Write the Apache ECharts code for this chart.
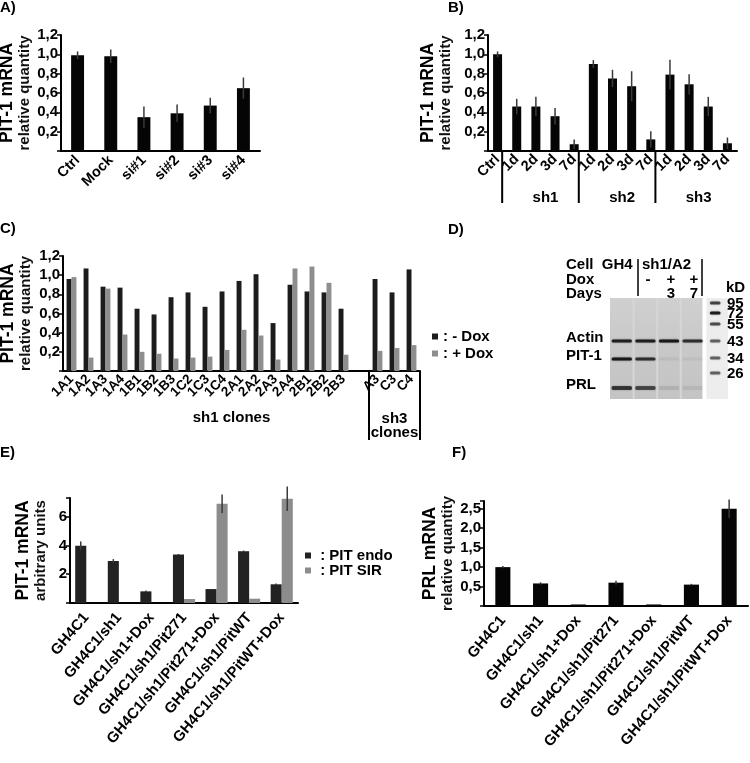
<!DOCTYPE html>
<html>
<head>
<meta charset="utf-8">
<script src="https://cdn.jsdelivr.net/npm/echarts@6/dist/echarts.min.js"></script>
<style>
  html, body { margin: 0; padding: 0; background: #fff; }
  #chart { width: 750px; height: 763px; }
</style>
</head>
<body>
<div id="chart"></div>
<script>
// A) siRNA
const catA = ['Ctrl', 'Mock', 'si#1', 'si#2', 'si#3', 'si#4']
const valA = [0.99, 0.98, 0.35, 0.39, 0.47, 0.65]
const errA = [0.04, 0.07, 0.11, 0.09, 0.08, 0.11]

// B) shRNA time course
const catB = ['Ctrl', '1d', '2d', '3d', '7d', '1d', '2d', '3d', '7d', '1d', '2d', '3d', '7d']
const valB = [1.0, 0.46, 0.46, 0.36, 0.07, 0.9, 0.75, 0.67, 0.12, 0.79, 0.69, 0.46, 0.08]
const errB = [0.03, 0.08, 0.1, 0.085, 0.05, 0.04, 0.09, 0.155, 0.085, 0.155, 0.105, 0.1, 0.06]
const groupsB = ['sh1', 'sh2', 'sh3']
const groupStartB = [1, 5, 9]

// C) clones
const catC = ['1A1', '1A2', '1A3', '1A4', '1B1', '1B2', '1B3', '1C2', '1C3', '1C4', '2A1', '2A2', '2A3',
  '2A4', '2B1', '2B2', '2B3', '', 'A3', 'C3', 'C4']
const minusDox = [0.96, 1.07, 0.88, 0.87, 0.65, 0.59, 0.77, 0.82, 0.67, 0.83, 0.94, 1.01, 0.5,
  0.9, 0.83, 0.82, 0.65, null, 0.96, 0.82, 1.06]
const plusDox = [0.98, 0.14, 0.86, 0.38, 0.2, 0.18, 0.13, 0.14, 0.15, 0.22, 0.43, 0.37, 0.12,
  1.07, 1.09, 0.92, 0.17, null, 0.21, 0.24, 0.27]
const groupsC = ['sh1 clones', 'sh3\nclones']
const groupStartC = [0, 18]
const groupSizeC = [17, 3]

// D) western blot
const gelLanes = ['GH4', 'sh1/A2 -', 'sh1/A2 + 3', 'sh1/A2 + 7', 'marker']
const gelRows = ['Actin', 'PIT-1', 'PRL']
const gelRowPos = [43, 61, 90]
const actinI = [0.9, 0.9, 0.95, 0.8]
const pit1I = [0.95, 0.8, 0.06, 0.05]
const prlI = [0.75, 0.65, 0.1, 0.08]
const markerKd = ['95', '72', '55', '43', '34', '26']
const markerPos = [5, 15, 26, 43, 60, 75]
const markerI = [0.7, 0.95, 0.65, 0.55, 0.55, 0.55]

// E) rescue, PIT-1 mRNA
const catEF = ['GH4C1', 'GH4C1/sh1', 'GH4C1/sh1+Dox', 'GH4C1/sh1/Pit271', 'GH4C1/sh1/Pit271+Dox',
  'GH4C1/sh1/PitWT', 'GH4C1/sh1/PitWT+Dox']
const pitEndo = [3.98, 2.92, 0.81, 3.37, 0.97, 3.6, 1.3]
const pitEndoErr = [0.3, 0.13, 0.06, 0.04, 0, 0.05, 0.05]
const pitSir = [0, 0, 0, 0.28, 6.9, 0.3, 7.25]
const pitSirErr = [0, 0, 0, 0, 0.65, 0, 0.85]

// F) PRL mRNA
const prl = [1.0, 0.58, 0.04, 0.6, 0.04, 0.55, 2.5]
const prlErr = [0.03, 0.03, 0, 0.05, 0, 0.02, 0.24]

const FONT = '"Liberation Sans", Arial, Helvetica, sans-serif'
const BOLD = 'bold 15px ' + FONT

const comma = v => v.toFixed(1).replace('.', ',')
const integer = v => String(v)

function yAxis(gridIndex, max, interval, name1, name2, nameGap, fmt) {
  return {
    type: 'value', gridIndex, min: 0, max, interval,
    name: '{a|' + name1 + '}\n{b|' + name2 + '}',
    nameLocation: 'middle', nameGap, nameRotate: 90,
    nameTextStyle: {
      rich: {
        a: { fontFamily: FONT, fontWeight: 'bold', fontSize: 17.5, lineHeight: 18, color: '#000' },
        b: { fontFamily: FONT, fontWeight: 'bold', fontSize: 15, lineHeight: 18, color: '#111' },
      },
    },
    axisLine: { show: true, lineStyle: { color: '#000', width: 2 } },
    axisTick: { show: true, length: 4, lineStyle: { color: '#000', width: 1.5 } },
    splitLine: { show: false },
    axisLabel: {
      margin: 3, color: '#000', fontFamily: FONT, fontWeight: 'bold', fontSize: 15,
      formatter: v => {
        const k = v / interval
        if (v === 0 || Math.abs(k - Math.round(k)) > 1e-6) return ''
        return fmt(v)
      },
    },
  }
}

function xAxis(gridIndex, data, fontSize, rotate, margin) {
  return {
    type: 'category', gridIndex, data,
    axisLine: { lineStyle: { color: '#000', width: 2 } },
    axisTick: { show: false },
    axisLabel: {
      rotate, interval: 0, margin, color: '#000',
      fontFamily: FONT, fontWeight: 'bold', fontSize,
    },
  }
}

function errorBars(axis, vals, errs, offset) {
  return {
    type: 'custom', xAxisIndex: axis, yAxisIndex: axis, silent: true, z: 5,
    data: vals.map((v, i) => [i, v, errs[i]]),
    renderItem: (params, api) => {
      const e = api.value(2)
      if (!e) return
      const i = api.value(0)
      const v = api.value(1)
      const band = api.size([1, 0])[0]
      const x = api.coord([i, v])[0] + offset * band
      return {
        type: 'line',
        shape: { x1: x, y1: api.coord([i, v - e])[1], x2: x, y2: api.coord([i, v + e])[1] },
        style: { stroke: '#3a3a3a', lineWidth: 1.5 },
      }
    },
  }
}

function label(text, x, y, align) {
  return { type: 'text', x, y, style: { text, font: BOLD, fill: '#000', align: align || 'left', verticalAlign: 'middle' } }
}

const myChart = echarts.init(document.getElementById('chart'))

const option = {
  animation: false,
  backgroundColor: '#fff',
  textStyle: { fontFamily: FONT },
  grid: [
    { left: 61, top: 35, width: 199, height: 116, outerBoundsMode: 'none' },
    { left: 488, top: 35, width: 249, height: 116, outerBoundsMode: 'none' },
    { left: 63, top: 256, width: 357, height: 115, outerBoundsMode: 'none' },
    { left: 70, top: 498, width: 228, height: 105, outerBoundsMode: 'none' },
    { left: 484, top: 501, width: 264, height: 105, outerBoundsMode: 'none' },
    { left: 610, top: 298, width: 118, height: 101, outerBoundsMode: 'none' },
  ],
  xAxis: [
    xAxis(0, catA, 14.5, 45, 7),
    xAxis(1, catB, 14.5, 45, 6),
    xAxis(2, catC, 13.5, 45, 6),
    xAxis(3, catEF, 15, 50, 12),
    xAxis(4, catEF, 15, 50, 12),
    { type: 'category', gridIndex: 5, data: gelLanes, show: false },
  ],
  yAxis: [
    yAxis(0, 1.2, 0.2, 'PIT-1 mRNA', 'relative quantity', 27, comma),
    yAxis(1, 1.2, 0.2, 'PIT-1 mRNA', 'relative quantity', 33, comma),
    yAxis(2, 1.2, 0.2, 'PIT-1 mRNA', 'relative quantity', 28, comma),
    yAxis(3, 7.3, 2, 'PIT-1 mRNA', 'arbitrary units', 20, integer),
    yAxis(4, 2.7, 0.5, 'PRL mRNA', 'relative quantity', 27, comma),
    { type: 'value', gridIndex: 5, min: 0, max: 101, inverse: true, show: false },
  ],
  legend: [
    {
      data: ['- Dox', '+ Dox'], orient: 'vertical', left: 432, top: 329, padding: 0,
      icon: 'rect', itemWidth: 6, itemHeight: 6, itemGap: 2, selectedMode: false,
      formatter: n => ': ' + n,
      textStyle: { fontFamily: FONT, fontWeight: 'bold', fontSize: 15, lineHeight: 15, color: '#000' },
    },
    {
      data: ['PIT endo', 'PIT SIR'], orient: 'vertical', left: 305, top: 548, padding: 0,
      icon: 'rect', itemWidth: 6, itemHeight: 6, itemGap: 0, selectedMode: false,
      formatter: n => ' : ' + n,
      textStyle: { fontFamily: FONT, fontWeight: 'bold', fontSize: 15, lineHeight: 14, color: '#000' },
    },
  ],
  series: [
    // A
    { type: 'bar', name: 'A', xAxisIndex: 0, yAxisIndex: 0, data: valA,
      barCategoryGap: '61%', itemStyle: { color: '#050505' } },
    errorBars(0, valA, errA, 0),
    // B
    { type: 'bar', name: 'B', xAxisIndex: 1, yAxisIndex: 1, data: valB,
      barCategoryGap: '53%', itemStyle: { color: '#050505' } },
    errorBars(1, valB, errB, 0),
    {
      type: 'custom', xAxisIndex: 1, yAxisIndex: 1, silent: true,
      data: groupsB.map((g, k) => [groupStartB[k], 0]),
      renderItem: (params, api) => {
        const s = api.value(0)
        const band = api.size([1, 0])[0]
        const p = api.coord([s, 0])
        const x = p[0] - band * 0.76
        return {
          type: 'group',
          children: [
            { type: 'line', shape: { x1: x, y1: p[1], x2: x, y2: p[1] + 52 }, style: { stroke: '#000', lineWidth: 2 } },
            { type: 'text', x: p[0] + band * 1.5, y: p[1] + 47,
              style: { text: groupsB[params.dataIndex], font: BOLD, fill: '#000', align: 'center', verticalAlign: 'middle' } },
          ],
        }
      },
    },
    // C
    { type: 'bar', name: '- Dox', xAxisIndex: 2, yAxisIndex: 2, data: minusDox,
      barGap: '0%', barCategoryGap: '42%', itemStyle: { color: '#1c1c1c' } },
    { type: 'bar', name: '+ Dox', xAxisIndex: 2, yAxisIndex: 2, data: plusDox,
      barGap: '0%', barCategoryGap: '42%', itemStyle: { color: '#8e8e8e' } },
    {
      type: 'custom', xAxisIndex: 2, yAxisIndex: 2, silent: true,
      data: groupsC.map((g, k) => [groupStartC[k], groupSizeC[k]]),
      renderItem: (params, api) => {
        const k = params.dataIndex
        const band = api.size([1, 0])[0]
        const p = api.coord([api.value(0), 0])
        const x0 = p[0] - band / 2
        const x1 = x0 + api.value(1) * band
        const children = []
        if (k === 1) {
          children.push({ type: 'line', shape: { x1: x0, y1: p[1], x2: x0, y2: p[1] + 69 }, style: { stroke: '#000', lineWidth: 2 } })
          children.push({ type: 'line', shape: { x1: x1, y1: p[1], x2: x1, y2: p[1] + 69 }, style: { stroke: '#000', lineWidth: 2 } })
        }
        children.push({
          type: 'text', x: (x0 + x1) / 2 + (k === 0 ? 24 : 0), y: p[1] + (k === 0 ? 47 : 55),
          style: { text: groupsC[k], font: BOLD, fill: '#000', align: 'center', verticalAlign: 'middle', lineHeight: 14 },
        })
        return { type: 'group', children }
      },
    },
    // E
    { type: 'bar', name: 'PIT endo', xAxisIndex: 3, yAxisIndex: 3, data: pitEndo,
      barGap: '0%', barCategoryGap: '32%', itemStyle: { color: '#222' } },
    { type: 'bar', name: 'PIT SIR', xAxisIndex: 3, yAxisIndex: 3, data: pitSir,
      barGap: '0%', barCategoryGap: '32%', itemStyle: { color: '#8c8c8c' } },
    errorBars(3, pitEndo, pitEndoErr, -0.17),
    errorBars(3, pitSir, pitSirErr, 0.17),
    // F
    { type: 'bar', name: 'F', xAxisIndex: 4, yAxisIndex: 4, data: prl,
      barCategoryGap: '60%', itemStyle: { color: '#050505' } },
    errorBars(4, prl, prlErr, 0),
    // D gel: lane backgrounds
    {
      type: 'custom', xAxisIndex: 5, yAxisIndex: 5, silent: true,
      data: gelLanes.map((l, i) => [i]),
      renderItem: (params, api) => {
        const i = api.value(0)
        const band = api.size([1, 0])[0]
        const top = api.coord([i, 0])
        const bot = api.coord([i, 101])
        const marker = i === gelLanes.length - 1
        const x = top[0] - band / 2 + (marker ? 2 : 0)
        const w = band - (marker ? 2 : 0) - (i === 3 ? 2 : 0)
        const children = [
          { type: 'rect', shape: { x, y: top[1], width: w, height: bot[1] - top[1] },
            style: { fill: marker ? '#ededed' : {
              type: 'linear', x: 0, y: 0, x2: 0, y2: 1,
              colorStops: [{ offset: 0, color: '#d0d0d0' }, { offset: 0.5, color: '#c8c8c8' }, { offset: 1, color: '#c4c4c4' }],
            } } },
        ]
        if (i > 0 && !marker) {
          children.push({ type: 'rect', shape: { x: x - 1, y: top[1], width: 2, height: bot[1] - top[1] },
            style: { fill: '#d6d6d6' } })
        }
        return { type: 'group', children }
      },
    },
    // D gel: sample bands
    {
      type: 'custom', xAxisIndex: 5, yAxisIndex: 5, silent: true,
      data: [actinI, pit1I, prlI].flatMap((row, r) => row.map((a, l) => [l, gelRowPos[r], a, r === 2 ? 4 : 3])),
      renderItem: (params, api) => {
        const band = api.size([1, 0])[0]
        const p = api.coord([api.value(0), api.value(1)])
        const a = api.value(2)
        const h = api.value(3)
        const w = band * 0.86
        return {
          type: 'rect', shape: { x: p[0] - w / 2, y: p[1] - h / 2, width: w, height: h, r: 1.5 },
          style: { fill: 'rgba(20,20,20,' + a + ')', shadowBlur: 2, shadowColor: 'rgba(20,20,20,' + a * 0.6 + ')' },
        }
      },
    },
    // D gel: row labels
    {
      type: 'custom', xAxisIndex: 5, yAxisIndex: 5, silent: true,
      data: gelRows.map((r, k) => [0, gelRowPos[k]]),
      renderItem: (params, api) => {
        const band = api.size([1, 0])[0]
        const p = api.coord([0, api.value(1)])
        return {
          type: 'text', x: p[0] - band / 2 - 44, y: p[1] - 3,
          style: { text: gelRows[params.dataIndex], font: BOLD, fill: '#000', verticalAlign: 'middle' },
        }
      },
    },
    // D gel: marker ladder
    {
      type: 'custom', xAxisIndex: 5, yAxisIndex: 5, silent: true,
      data: markerPos.map((pos, m) => [4, pos, markerI[m]]),
      renderItem: (params, api) => {
        const band = api.size([1, 0])[0]
        const p = api.coord([4, api.value(1)])
        const a = api.value(2)
        const w = band * 0.45
        return {
          type: 'group',
          children: [
            { type: 'rect', shape: { x: p[0] - w / 2 - 1, y: p[1] - 1.5, width: w, height: 3, r: 1.5 },
              style: { fill: 'rgba(20,20,20,' + a + ')', shadowBlur: 2, shadowColor: 'rgba(20,20,20,0.5)' } },
            { type: 'text', x: p[0] + band / 2 - 1, y: p[1] + 1,
              style: { text: markerKd[params.dataIndex], font: BOLD, fill: '#000', verticalAlign: 'middle' } },
          ],
        }
      },
    },
  ],
  graphic: [
    label('A)', 0, 8),
    label('B)', 448, 8),
    label('C)', 0, 229),
    label('D)', 448, 230),
    label('E)', 0, 453),
    label('F)', 452, 453),
    label('Cell  GH4', 566, 265),
    label('sh1/A2', 642, 265),
    label('Dox', 566, 280),
    label('Days', 566, 294),
    label('-', 648, 280, 'center'),
    label('+', 671, 280, 'center'),
    label('+', 694, 280, 'center'),
    label('3', 671, 294, 'center'),
    label('7', 694, 294, 'center'),
    label('kD', 726, 288),
    { type: 'line', shape: { x1: 638, y1: 259, x2: 638, y2: 296 }, style: { stroke: '#000', lineWidth: 1.5 } },
    { type: 'line', shape: { x1: 702, y1: 259, x2: 702, y2: 296 }, style: { stroke: '#000', lineWidth: 1.5 } },
  ],
}

option && myChart.setOption(option)
</script>
</body>
</html>
